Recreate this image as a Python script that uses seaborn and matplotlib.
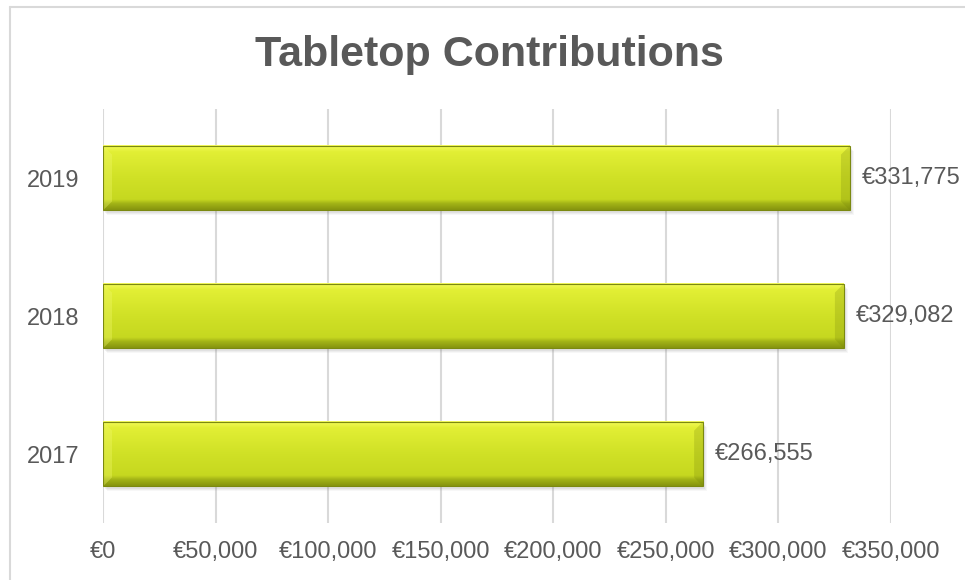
import numpy as np
import pandas as pd
import matplotlib
matplotlib.use("Agg")
import matplotlib.pyplot as plt
import seaborn as sns
from matplotlib.colors import LinearSegmentedColormap
from matplotlib.patches import Rectangle, Polygon
from matplotlib.lines import Line2D
from matplotlib.ticker import FuncFormatter

# --------------------------------------------------------------------------- #
# Data
# --------------------------------------------------------------------------- #
years = ["2019", "2018", "2017"]
contributions = [331775, 329082, 266555]
x_ticks = [0, 50000, 100000, 150000, 200000, 250000, 300000, 350000]
title = "Tabletop Contributions"

TEXT = "#595959"
GRID = "#d9d9d9"

sns.set_theme(style="white")
plt.rcParams["font.family"] = ["Liberation Sans", "DejaVu Sans"]

df = pd.DataFrame({"year": years, "amount": contributions})

W, H, DPI = 965, 580, 100
fig = plt.figure(figsize=(W / DPI, H / DPI), dpi=DPI)
ax = fig.add_axes([103 / W, 1 - 523 / H, (891 - 103) / W, (523 - 109) / H])

sns.barplot(data=df, x="amount", y="year", order=years, orient="h",
            color="#cfe026", width=0.47, saturation=1, ax=ax, zorder=3)

ax.set_xlim(0, 350000)
ax.set_ylim(2.5, -0.5)
ax.set_xticks(x_ticks)
ax.xaxis.set_major_formatter(FuncFormatter(lambda v, _: f"€{v:,.0f}"))
ax.grid(axis="x", color=GRID, linewidth=1.5, zorder=0)
ax.grid(axis="y", visible=False)
ax.set_axisbelow(True)
sns.despine(ax=ax, left=True, bottom=True)
ax.tick_params(axis="x", length=0, pad=13, labelsize=17, labelcolor=TEXT)
ax.tick_params(axis="y", length=0, pad=17, labelsize=17, labelcolor=TEXT)
ax.set_xlabel("")
ax.set_ylabel("")

# pixel -> data scale for the bevel and shadow
px_x = 350000 / (891 - 103)
px_y = 3.0 / (523 - 109)

grad = LinearSegmentedColormap.from_list(
    "bar", [(0.0, "#f4fb5c"), (0.1, "#e2ef35"), (0.5, "#d0e126"),
            (0.84, "#c6d820"), (0.9, "#a3b417"), (1.0, "#86950f")])
col = np.array([grad(v)[:3] for v in np.linspace(0, 1, 200)])
img = np.repeat(col[:, None, :], 2, axis=1)

for patch, val in zip(ax.patches, contributions):
    x0, y0 = patch.get_x(), patch.get_y()
    w, h = patch.get_width(), patch.get_height()
    patch.set_facecolor("none")
    patch.set_edgecolor("#7b8910")
    patch.set_linewidth(0.8)
    patch.set_zorder(5)

    # soft shadow
    for k, a in enumerate([0.10, 0.08, 0.06]):
        ax.add_patch(Rectangle((x0 + (2 + k) * px_x, y0 + (3 + k) * px_y), w, h,
                               facecolor="#7f7f7f", alpha=a, linewidth=0, zorder=2))

    ax.imshow(img, extent=(x0, x0 + w, y0 + h, y0), aspect="auto",
              interpolation="bilinear", zorder=4)

    bx, by = 9 * px_x, 9 * px_y
    left = Polygon([(x0, y0), (x0 + bx, y0 + by), (x0 + bx, y0 + h - by), (x0, y0 + h)],
                   facecolor="#f0f86a", alpha=0.35, linewidth=0, zorder=4.5)
    right = Polygon([(x0 + w, y0), (x0 + w - bx, y0 + by), (x0 + w - bx, y0 + h - by), (x0 + w, y0 + h)],
                    facecolor="#6e7c08", alpha=0.22, linewidth=0, zorder=4.5)
    ax.add_patch(left)
    ax.add_patch(right)

    ax.text(val + 12 * px_x, y0 + h / 2, f"€{val:,.0f}", va="center", ha="left",
            fontsize=17, color=TEXT, zorder=6)

fig.text(489 / W, 1 - 55 / H, title, ha="center", va="center",
         fontsize=31, fontweight="bold", color=TEXT)

# chart-area border (top and left visible in the crop)
fig.add_artist(Line2D([10 / W, 10 / W], [0, 1 - 7 / H], transform=fig.transFigure,
                      color=GRID, linewidth=1.5))
fig.add_artist(Line2D([10 / W, 1], [1 - 7 / H, 1 - 7 / H], transform=fig.transFigure,
                      color=GRID, linewidth=1.5))

fig.savefig("out.png", dpi=DPI)
